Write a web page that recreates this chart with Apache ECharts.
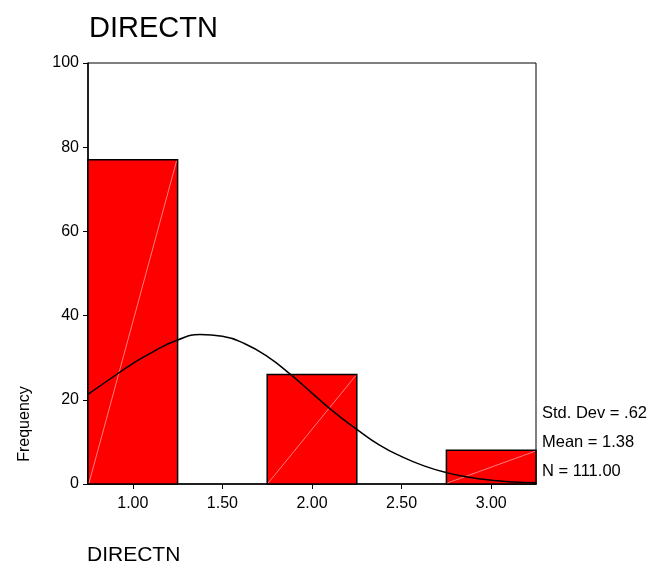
<!DOCTYPE html>
<html>
<head>
<meta charset="utf-8">
<script src="https://cdn.jsdelivr.net/npm/echarts@6/dist/echarts.min.js"></script>
<style>
  html, body { margin: 0; padding: 0; background: #fff; }
  #chart { width: 652px; height: 570px; }
</style>
</head>
<body>
<div id="chart"></div>
<script>
// Histogram of DIRECTN with a fitted normal curve
const binCenters = [1.0, 2.0, 3.0];
const binCounts = [77, 26, 8];
const binHalfWidth = 0.25;

const xTickValues = [1.0, 1.5, 2.0, 2.5, 3.0];

// Normal curve read at 0.125 steps
const curveX = [0.75, 0.875, 1.0, 1.125, 1.25, 1.375, 1.5, 1.625, 1.75, 1.875, 2.0,
                2.125, 2.25, 2.375, 2.5, 2.625, 2.75, 2.875, 3.0, 3.125, 3.25];
const curveY = [21.3, 25.0, 28.6, 31.7, 34.2, 35.5, 35.1, 33.3, 30.3, 26.2, 21.6,
                17.0, 13.0, 9.3, 6.5, 4.3, 2.7, 1.6, 0.9, 0.5, 0.3];

const statLines = ['Std. Dev = .62', 'Mean = 1.38', 'N = 111.00'];

const FONT = '"Liberation Sans", Arial, sans-serif';

const chart = echarts.init(document.getElementById('chart'), null, { renderer: 'canvas' });

const barData = binCenters.map((c, i) => [c, binCounts[i]]);
const curveData = curveX.map((x, i) => [x, curveY[i]]);

chart.setOption({
  animation: false,
  backgroundColor: '#ffffff',
  title: {
    text: 'DIRECTN',
    left: 84,
    top: 9,
    textStyle: { fontFamily: FONT, fontSize: 29, fontWeight: 'normal', color: '#000' }
  },
  grid: {
    left: 88, top: 63, right: 116, bottom: 86,
    show: true, borderColor: '#000', borderWidth: 1, backgroundColor: 'transparent'
  },
  xAxis: {
    type: 'value',
    min: 0.75,
    max: 3.25,
    axisLine: { show: true, onZero: false, lineStyle: { color: '#000', width: 1.5 } },
    axisTick: { show: true, length: 5, customValues: xTickValues, lineStyle: { color: '#000' } },
    axisLabel: {
      customValues: xTickValues,
      formatter: v => Number(v).toFixed(2),
      margin: 12,
      fontFamily: FONT, fontSize: 16, color: '#000'
    },
    splitLine: { show: false }
  },
  yAxis: {
    type: 'value',
    min: 0,
    max: 100,
    interval: 20,
    axisLine: { show: true, lineStyle: { color: '#000', width: 1.5 } },
    axisTick: { show: true, length: 5, lineStyle: { color: '#000' } },
    axisLabel: { margin: 9, fontFamily: FONT, fontSize: 16, color: '#000' },
    splitLine: { show: false }
  },
  series: [
    {
      type: 'custom',
      z: 2,
      data: barData,
      encode: { x: 0, y: 1 },
      renderItem: function (params, api) {
        const c = api.value(0);
        const v = api.value(1);
        const p0 = api.coord([c - binHalfWidth, 0]);
        const p1 = api.coord([c + binHalfWidth, v]);
        return {
          type: 'group',
          children: [
            {
              type: 'rect',
              shape: { x: p0[0], y: p1[1], width: p1[0] - p0[0], height: p0[1] - p1[1] },
              style: { fill: '#ff0000', stroke: '#000', lineWidth: 1.5 }
            },
            {
              type: 'line',
              shape: { x1: p0[0] + 1, y1: p0[1] - 1, x2: p1[0] - 1, y2: p1[1] + 1 },
              style: { stroke: 'rgba(255,210,210,0.75)', lineWidth: 0.8 }
            }
          ]
        };
      }
    },
    {
      type: 'line',
      z: 3,
      data: curveData,
      smooth: true,
      showSymbol: false,
      symbol: 'none',
      lineStyle: { color: '#000', width: 1.5 },
      clip: true
    }
  ],
  graphic: [
    {
      type: 'text',
      x: 25, y: 424,
      rotation: Math.PI / 2,
      style: {
        text: 'Frequency', fill: '#000', font: '16px ' + FONT,
        align: 'center', verticalAlign: 'middle'
      }
    },
    ...statLines.map((t, i) => ({
      type: 'text',
      x: 542, y: 413 + i * 29,
      style: { text: t, fill: '#000', font: '16.5px ' + FONT, align: 'left', verticalAlign: 'middle' }
    })),
    {
      type: 'text',
      x: 87, y: 555,
      style: { text: 'DIRECTN', fill: '#000', font: '21px ' + FONT, align: 'left', verticalAlign: 'middle' }
    }
  ]
});
</script>
</body>
</html>
